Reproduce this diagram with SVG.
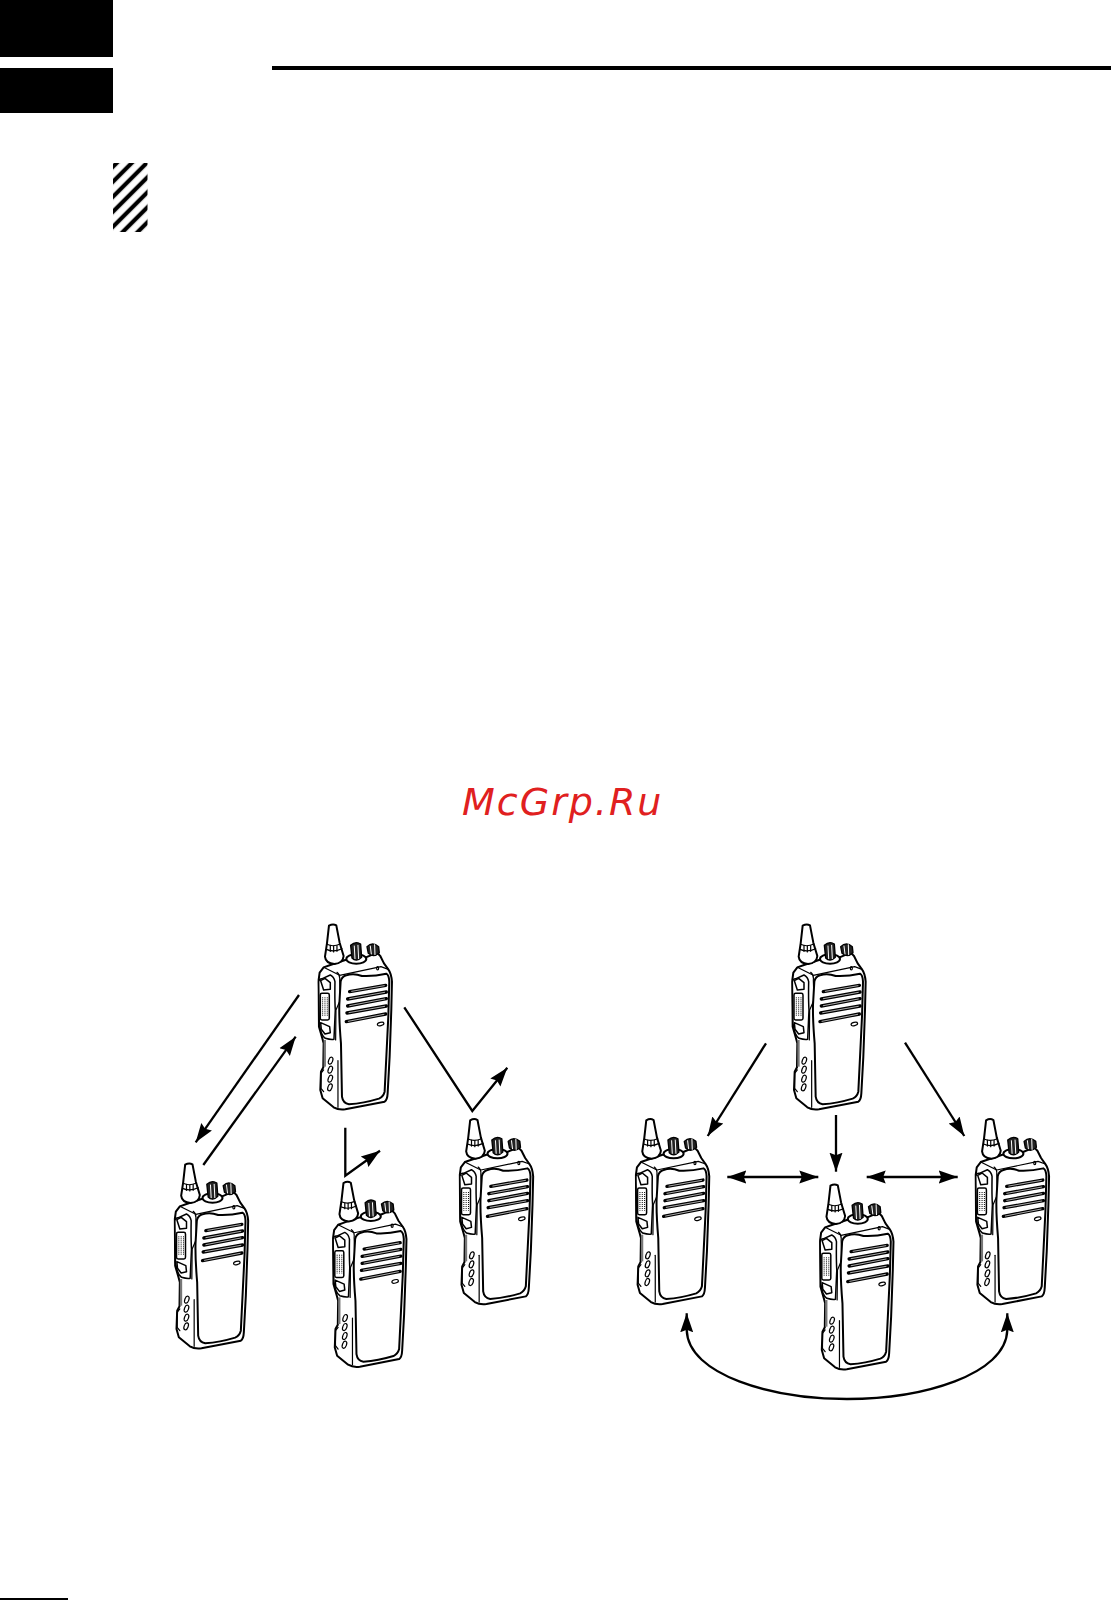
<svg xmlns="http://www.w3.org/2000/svg" width="1111" height="1600" viewBox="0 0 1111 1600">
<style>
.conn{fill:none;stroke:#000;stroke-width:2.3}
.r{fill:#fff;stroke:#000;stroke-width:6;stroke-linejoin:round;stroke-linecap:round}
.t{fill:none;stroke:#000;stroke-width:3.6;stroke-linejoin:round;stroke-linecap:round}
.g{fill:#fff;stroke:#000;stroke-width:4.5;stroke-linejoin:round}
.s{fill:none;stroke:#000;stroke-width:10;stroke-linecap:round}
.w{fill:none;stroke:#fff;stroke-width:2;stroke-linecap:round}
.d{fill:#222;stroke:#000;stroke-width:4;stroke-linejoin:round}
.k{fill:#000;stroke:none}
.wm{font-family:"DejaVu Sans",sans-serif;font-style:oblique;font-size:38px;letter-spacing:2px;fill:#e02020}
</style>
<defs>
<marker id="ah" markerUnits="userSpaceOnUse" markerWidth="22" markerHeight="16" refX="19" refY="8" orient="auto-start-reverse"><path d="M0,1.5 L19,8 L0,14.5 L2.5,8 Z" fill="#000"/></marker>
<pattern id="hatch" patternUnits="userSpaceOnUse" width="10.607" height="10.607" patternTransform="translate(113,196.7) rotate(-45)"><rect width="10.607" height="10.607" fill="#fff"/><rect width="10.607" height="2.1" fill="#000"/><rect y="8.5" width="10.607" height="2.107" fill="#000"/></pattern>
<g id="radio" transform="scale(0.33333)">
<path class="r" d="M100,172 L88,188 L85,210 L86,350 L96,385 L100,400 L99,472 L92,485 L90,540 L97,565 L130,592 Q145,601 165,598 L283,575 Q291,570 292,550 L298,440 L303,300 L305,215 Q303,190 294,178 L281,160 L270,138 L260,128 L220,145 L165,150 L120,165 Z"/>
<path class="t" d="M100,172 L148,196 L272,170 L294,178"/>
<path class="t" d="M140,187 Q150,195 148,210 L150,270 L137,300 L136,390"/>
<path class="r" d="M168,196 Q190,188 215,198 Q250,200 288,191 Q296,195 297,215 L294,320 L283,545 Q279,560 266,566 Q220,580 176,583 Q158,580 155,560 L152,400 Q146,330 147,285 L151,215 Q154,200 168,196 Z"/>
<path class="g" d="M96,206 Q87,205 85,215 L87,340 Q91,375 105,385 Q122,390 131,388 L135,300 Q133,270 134,215 Q131,200 120,195 Z"/>
<path class="g" d="M91,212 L104,205 L120,218 L120,238 L100,240 Z"/>
<rect class="g" x="90" y="250" width="27" height="80" rx="5"/>
<path style="fill:none;stroke:#000;stroke-width:3;stroke-dasharray:3 3" d="M97,262 V318 M104,262 V318 M111,262 V318"/>
<path class="g" d="M91,338 L118,350 L120,368 L104,372 L93,358 Z"/>
<path d="M100,390 L107,390 L107,470 L100,470 Z" fill="#777"/>
<path class="t" d="M143,452 V592"/>
<ellipse class="t" cx="121" cy="452" rx="6" ry="11" transform="rotate(20 121 452)"/>
<ellipse class="t" cx="120" cy="479" rx="6" ry="11" transform="rotate(20 120 479)"/>
<ellipse class="t" cx="120" cy="506" rx="6" ry="11" transform="rotate(20 120 506)"/>
<ellipse class="t" cx="119" cy="532" rx="6" ry="11" transform="rotate(20 119 532)"/>
<path class="t" d="M100,480 L92,490 V535 L100,545"/>
<path class="r" d="M116,47 Q128,40 138,46 L148,98 L160,138 Q158,160 132,162 Q106,160 104,140 L110,100 Z"/>
<path class="t" d="M110,103 Q128,112 150,102 M108,118 Q130,128 155,116"/>
<path class="t" d="M120,106 V124 M130,108 V126 M140,107 V124"/>
<ellipse class="r" cx="198" cy="147" rx="30" ry="14"/>
<path class="d" d="M181,106 Q196,92 211,102 L214,142 Q198,158 185,144 Z"/>
<path class="w" style="stroke-width:3" d="M192,108 L194,146 M203,106 L205,146"/>
<path class="d" d="M230,110 Q247,94 265,110 L267,128 Q250,144 234,130 Z"/>
<path class="w" style="stroke-width:3" d="M240,108 L243,132 M253,104 L254,134"/>
<ellipse class="t" cx="262" cy="175" rx="3" ry="5"/>
<path class="s" d="M178,245 L286,226 M172,267 L288,246 M172,288 L288,266 M170,309 L288,288 M168,335 L286,312"/>
<path class="w" d="M184,244 L282,227 M178,266 L283,247 M178,287 L283,267 M176,308 L283,289 M174,334 L281,313"/>
<ellipse class="t" cx="271" cy="342" rx="10" ry="5" transform="rotate(-15 271 342)"/>
</g>
</defs>
<rect width="1111" height="1600" fill="#fff"/>
<g id="header">
<rect class="k" x="0" y="0" width="113" height="57"/>
<rect class="k" x="0" y="68" width="113" height="45"/>
<rect class="k" x="272" y="66" width="839" height="4"/>
<rect x="113" y="163" width="34.5" height="69" fill="url(#hatch)"/>
<rect class="k" x="0" y="1598" width="68" height="2"/>
</g>
<text class="wm" x="462" y="815">McGrp.Ru</text>
<g id="radio-a1"><use href="#radio" transform="translate(290.3,910)"/></g>
<g id="radio-a2"><use href="#radio" transform="translate(146.5,1149)"/></g>
<g id="radio-a3"><use href="#radio" transform="translate(304.8,1167.4)"/></g>
<g id="radio-a4"><use href="#radio" transform="translate(431.5,1104.7)"/></g>
<g id="radio-b1"><use href="#radio" transform="translate(764,910)"/></g>
<g id="radio-b2"><use href="#radio" transform="translate(607.6,1104.7)"/></g>
<g id="radio-b3"><use href="#radio" transform="translate(791.8,1170)"/></g>
<g id="radio-b4"><use href="#radio" transform="translate(947.4,1104.7)"/></g>
<g id="connectors">
<path class="conn" marker-end="url(#ah)" d="M299,995 L195.7,1142.3"/>
<path class="conn" marker-end="url(#ah)" d="M203.3,1165 L295.7,1036.7"/>
<path class="conn" marker-end="url(#ah)" d="M404.3,1007.3 L472.3,1111 L507.3,1067.7"/>
<path class="conn" marker-end="url(#ah)" d="M345.3,1127.7 L345.3,1175.7 L380,1150.7"/>
<path class="conn" marker-end="url(#ah)" d="M766,1043.3 L707.7,1136"/>
<path class="conn" marker-end="url(#ah)" d="M905,1042.7 L964.3,1136"/>
<path class="conn" marker-end="url(#ah)" d="M836,1115 L836,1171.7"/>
<path class="conn" marker-start="url(#ah)" marker-end="url(#ah)" d="M727.3,1177 L818.3,1177"/>
<path class="conn" marker-start="url(#ah)" marker-end="url(#ah)" d="M866.7,1177 L957.7,1177"/>
<path class="conn" marker-start="url(#ah)" marker-end="url(#ah)" d="M686.7,1313.3 L686.7,1330 C688,1375 772,1399 847,1399 C922,1399 1006,1375 1007.3,1330 L1007.3,1313.3"/>
</g>
</svg>
